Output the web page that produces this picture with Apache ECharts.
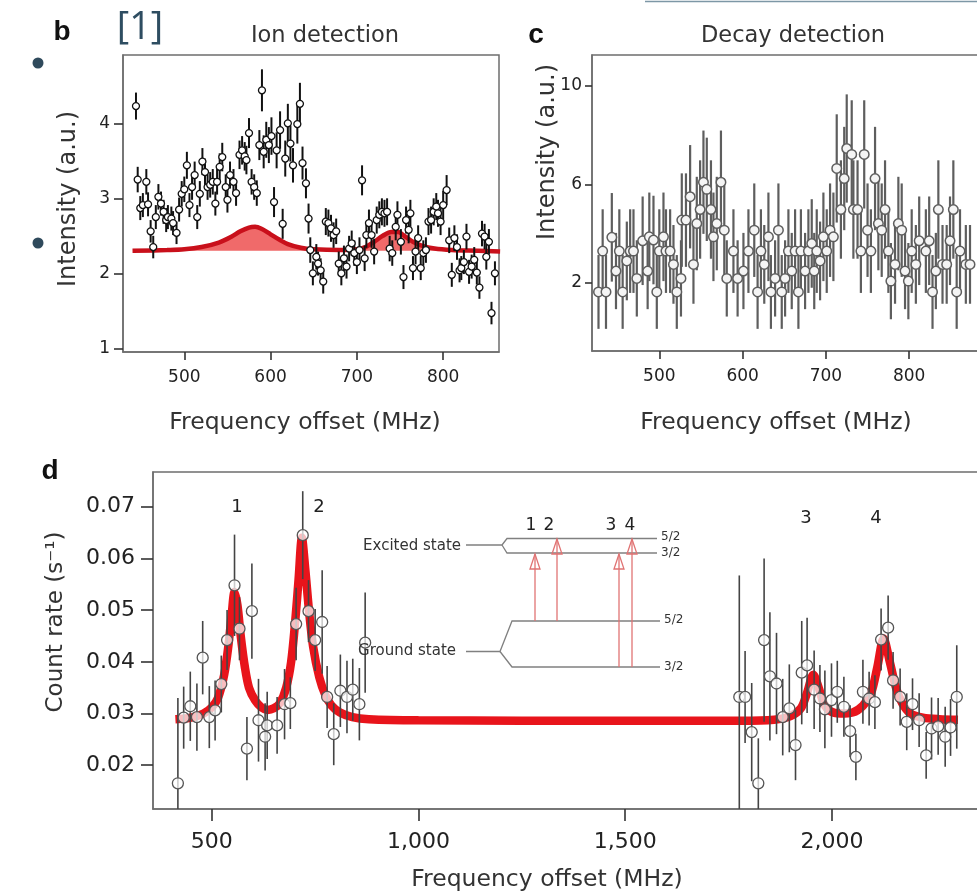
<!DOCTYPE html>
<html><head><meta charset="utf-8">
<script src="https://cdn.jsdelivr.net/npm/echarts@6/dist/echarts.min.js"></script>
<style>html,body{margin:0;padding:0;background:#fff}#c{width:977px;height:895px}</style>
</head><body><div id="c"></div><script>
// ---------- Panel b: ion detection ----------
const ionFreq = [444,446,449,452,456,458,461,464,467,470,473,476,479,481,485,487,491,494,497,500,503,506,509,512,515,518,521,524,527,530,533,536,538,541,544,548,550,553,557,560,564,567,570,572,575,578,581,584,587,590,592,595,598,601,604,607,611,614,617,620,623,626,631,634,637,641,644,646,649,653,655,658,661,664,667,670,673,676,679,682,685,688,691,694,697,700,703,706,709,711,714,717,720,723,726,729,732,735,738,741,745,747,751,754,757,760,762,765,768,771,774,777,780,783,786,789,792,794,797,800,804,807,810,813,816,819,821,824,827,830,833,836,839,842,845,848,850,853,856,860];
const ionVal = [4.23,3.25,2.87,2.91,3.22,2.92,2.56,2.35,2.75,3.02,2.93,2.82,2.71,2.75,2.73,2.67,2.54,2.85,3.06,3.12,3.44,2.91,3.15,3.31,2.75,3.06,3.49,3.35,3.15,3.18,3.22,2.93,3.22,3.42,3.55,3.15,2.98,3.31,3.22,3.07,3.58,3.64,3.56,3.51,3.87,3.22,3.15,3.07,3.71,4.44,3.62,3.78,3.71,3.83,2.95,3.64,3.91,2.66,3.53,4.00,3.73,3.44,3.99,4.26,3.47,3.20,2.73,2.31,2.00,2.22,2.13,2.04,1.89,2.69,2.67,2.60,2.51,2.56,2.13,2.00,2.20,2.09,2.33,2.40,2.27,2.15,2.31,3.24,2.20,2.51,2.67,2.51,2.29,2.71,2.78,2.82,2.80,2.82,2.33,2.27,2.62,2.78,2.42,1.95,2.71,2.58,2.80,2.07,2.29,2.47,2.07,2.27,2.31,2.69,2.71,2.82,2.89,2.80,2.69,2.91,3.11,2.44,1.98,2.47,2.35,2.04,2.07,2.15,2.49,2.02,2.09,2.18,2.01,1.81,2.53,2.49,2.22,2.42,1.47,2.00];
const ionErr = [0.18,0.17,0.16,0.16,0.17,0.16,0.15,0.15,0.16,0.17,0.16,0.16,0.16,0.16,0.16,0.16,0.15,0.16,0.17,0.17,0.18,0.16,0.17,0.18,0.16,0.17,0.18,0.18,0.17,0.17,0.17,0.16,0.17,0.18,0.19,0.17,0.17,0.18,0.17,0.17,0.19,0.19,0.19,0.19,0.20,0.17,0.17,0.17,0.20,0.28,0.22,0.24,0.24,0.25,0.20,0.24,0.25,0.20,0.24,0.26,0.24,0.23,0.26,0.28,0.22,0.20,0.20,0.17,0.16,0.17,0.16,0.16,0.16,0.18,0.18,0.18,0.17,0.17,0.16,0.16,0.17,0.16,0.17,0.17,0.17,0.16,0.17,0.20,0.17,0.17,0.18,0.17,0.17,0.18,0.18,0.18,0.18,0.18,0.17,0.17,0.18,0.18,0.17,0.16,0.18,0.18,0.18,0.16,0.17,0.17,0.16,0.17,0.17,0.18,0.18,0.18,0.18,0.18,0.18,0.19,0.20,0.17,0.16,0.17,0.17,0.16,0.16,0.16,0.17,0.16,0.16,0.17,0.16,0.15,0.17,0.17,0.17,0.17,0.15,0.16];
const ionFitFreq = [440,480,500,520,540,555,565,575,582,590,600,610,620,635,650,680,700,710,720,730,740,748,755,765,775,790,810,840,866];
const ionFitVal = [2.30,2.31,2.32,2.35,2.41,2.49,2.56,2.61,2.62,2.59,2.52,2.45,2.39,2.34,2.32,2.31,2.32,2.35,2.42,2.50,2.55,2.55,2.50,2.42,2.37,2.33,2.31,2.30,2.29];
const ionFitBase = 2.3;
const ionXTicks = [500,600,700,800];
const ionYTicks = [1,2,3,4];

// ---------- Panel c: decay detection ----------
const decayFreq = [427,432,436,443,448,452,456,461,465,469,473,480,486,488,493,497,500,505,508,513,517,521,526,527,532,537,541,545,549,553,557,562,565,569,574,578,581,589,594,601,607,614,618,622,626,631,634,639,643,647,651,655,659,663,667,670,675,679,683,686,689,693,697,701,705,709,713,718,722,725,731,733,738,742,746,750,754,759,763,767,771,775,778,783,787,791,795,799,803,808,812,820,824,828,832,835,840,845,849,853,857,861,868,873];
const decayVal = [1.63,3.29,1.63,3.85,2.48,3.29,1.63,2.89,3.29,3.29,2.18,3.71,2.48,3.87,3.74,1.63,3.29,3.87,3.29,3.29,2.75,1.63,2.18,4.55,4.55,5.50,2.75,4.41,4.98,6.09,5.80,4.98,3.87,4.41,6.09,4.14,2.18,3.29,2.18,2.48,3.29,4.14,1.63,3.29,2.75,3.87,1.63,2.18,4.14,1.63,2.18,3.29,2.48,3.29,1.63,3.29,2.48,3.29,3.60,2.48,3.29,2.89,3.87,3.29,4.14,3.87,6.65,4.98,6.24,7.46,7.22,4.98,4.98,3.29,7.22,4.14,3.29,6.24,4.41,4.14,4.98,3.29,2.07,2.75,4.41,4.14,2.48,2.07,3.29,2.75,3.71,3.29,3.71,1.63,2.48,4.98,2.75,2.75,3.71,4.98,1.63,3.29,2.75,2.75];
const decayErr = [1.5,1.7,1.5,1.8,1.55,1.7,1.5,1.6,1.7,1.7,1.55,1.8,1.55,1.8,1.8,1.5,1.7,1.8,1.7,1.7,1.6,1.5,1.55,1.9,1.9,2.1,1.6,1.9,2.0,2.1,2.1,2.0,1.8,1.9,2.1,1.9,1.55,1.7,1.55,1.55,1.7,1.9,1.5,1.7,1.6,1.8,1.5,1.55,1.9,1.5,1.55,1.7,1.55,1.7,1.5,1.7,1.55,1.7,1.8,1.55,1.7,1.6,1.8,1.7,1.9,1.8,2.2,2.0,2.1,2.2,2.2,2.0,2.0,1.7,2.2,1.9,1.7,2.1,1.9,1.9,2.0,1.7,1.55,1.6,1.9,1.9,1.55,1.55,1.7,1.6,1.8,1.7,1.8,1.5,1.55,2.0,1.6,1.6,1.8,2.0,1.5,1.7,1.6,1.6];
const decayXTicks = [500,600,700,800];
const decayYTicks = [2,6,10];

// ---------- Panel d: resonance count rate ----------
const rateFreq = [418,432,448,464,478,494,508,523,537,555,567,585,597,613,629,634,658,676,690,704,720,734,750,767,779,795,811,827,841,857,871,
  1776,1790,1806,1822,1836,1850,1866,1881,1897,1912,1927,1940,1957,1971,1983,1999,2013,2029,2044,2058,2075,2090,2104,2119,2136,2148,2165,2181,2195,2211,2228,2241,2257,2274,2287,2302];
const rateVal = [0.0165,0.0292,0.0314,0.0293,0.0408,0.0293,0.0306,0.0357,0.0442,0.0548,0.0464,0.0232,0.0498,0.0287,0.0255,0.0277,0.0277,0.0318,0.0320,0.0473,0.0645,0.0498,0.0442,0.0477,0.0332,0.0260,0.0344,0.0332,0.0346,0.0318,0.0437,
  0.0332,0.0332,0.0264,0.0165,0.0442,0.0372,0.0358,0.0293,0.0310,0.0239,0.0379,0.0393,0.0346,0.0329,0.0308,0.0326,0.0342,0.0313,0.0266,0.0216,0.0342,0.0329,0.0322,0.0443,0.0466,0.0364,0.0332,0.0284,0.0318,0.0287,0.0219,0.0271,0.0275,0.0255,0.0273,0.0332];
const rateErr = [0.0165,0.0060,0.0067,0.0065,0.0071,0.0060,0.0058,0.0055,0.0058,0.0098,0.0061,0.0061,0.0092,0.0080,0.0065,0.0065,0.0055,0.0068,0.0050,0.0070,0.0085,0.0060,0.0060,0.0100,0.0060,0.0060,0.0070,0.0070,0.0060,0.0070,0.0097,
  0.0235,0.0089,0.0095,0.0087,0.0158,0.0124,0.0098,0.0074,0.0085,0.0068,0.0100,0.0092,0.0076,0.0065,0.0075,0.0071,0.0060,0.0058,0.0050,0.0045,0.0062,0.0052,0.0052,0.0060,0.0062,0.0055,0.0055,0.0055,0.0050,0.0052,0.0045,0.0060,0.0055,0.0058,0.0055,0.0100];
const rateFitFreq = [412,450,480,500,515,530,540,548,555,562,570,580,590,605,620,635,650,665,680,692,702,710,718,726,735,745,760,775,790,810,840,880,1000,1500,1780,1860,1900,1925,1940,1955,1968,1980,1995,2020,2050,2075,2095,2110,2125,2140,2155,2170,2190,2220,2260,2305];
const rateFitVal = [0.0289,0.0292,0.0300,0.0312,0.0330,0.0375,0.0430,0.0490,0.0535,0.0510,0.0450,0.0390,0.0350,0.0325,0.0312,0.0307,0.0310,0.0320,0.0350,0.0400,0.0480,0.0560,0.0640,0.0580,0.0500,0.0430,0.0370,0.0335,0.0315,0.0302,0.0293,0.0289,0.0287,0.0286,0.0286,0.0288,0.0295,0.0310,0.0340,0.0375,0.0350,0.0320,0.0305,0.0300,0.0302,0.0315,0.0340,0.0390,0.0445,0.0400,0.0350,0.0320,0.0300,0.0292,0.0289,0.0288];
const rateXTicks = [500,1000,1500,2000];
const rateYTicks = [0.02,0.03,0.04,0.05,0.06,0.07];
const peakLabels = ['1','2','3','4'];

// ---------- build ----------
const FONT = 'DejaVu Sans';
const chart = echarts.init(document.getElementById('c'), null, {renderer:'canvas'});
const zip = (a,b) => a.map((v,i)=>[v,b[i]]);
const bars = (xs,ys,es) => xs.map((x,i)=>[x, ys[i]-es[i], ys[i]+es[i]]);
const AX = '#6e6e6e';
const TICK = '#333';

function errSeries(gi, data, color, width, z){
  return {type:'custom', xAxisIndex:gi, yAxisIndex:gi, z:z, silent:true, clip:true,
    data:data, encode:{x:0, y:[1,2]},
    renderItem:(params, api)=>{
      const a = api.coord([api.value(0), api.value(1)]);
      const b = api.coord([api.value(0), api.value(2)]);
      return {type:'line', shape:{x1:a[0], y1:a[1], x2:b[0], y2:b[1]},
        style:{stroke:color, lineWidth:width}};
    }};
}
function xAxis(gi, min, max, ticks, fs, margin, tlen, fmt){
  return {type:'value', gridIndex:gi, position:'bottom', min:min, max:max, splitLine:{show:false},
    axisLine:{show:true, onZero:false, lineStyle:{color:AX, width:1.5}},
    axisTick:{show:true, customValues:ticks, length:tlen, inside:false, lineStyle:{color:TICK, width:1.6}},
    axisLabel:{show:true, customValues:ticks, fontFamily:FONT, fontSize:fs, color:'#222', margin:margin, formatter:fmt}};
}
function yAxis(gi, min, max, ticks, fs, margin, tlen, fmt){
  return {type:'value', gridIndex:gi, position:'left', min:min, max:max, splitLine:{show:false},
    axisLine:{show:true, onZero:false, lineStyle:{color:AX, width:1.5}},
    axisTick:{show:true, customValues:ticks, length:tlen, inside:false, lineStyle:{color:TICK, width:1.6}},
    axisLabel:{show:true, customValues:ticks, fontFamily:FONT, fontSize:fs, color:'#222', margin:margin, formatter:fmt}};
}
const gridBase = {show:true, borderColor:AX, borderWidth:1.5, backgroundColor:'transparent', containLabel:false, outerBoundsMode:'none'};

function txt(x,y,text,fs,opt){
  return Object.assign({type:'text', x:x, y:y, silent:true, z:50,
    style:{text:text, font:(opt&&opt.weight?opt.weight+' ':'')+fs+'px "'+((opt&&opt.family)||FONT)+'"',
      fill:(opt&&opt.color)||'#222', align:(opt&&opt.align)||'center', verticalAlign:'middle'}},
    opt&&opt.rotation!==undefined?{rotation:opt.rotation}:{});
}
function seg(points, color, w){
  return {type:'polyline', silent:true, z:40, shape:{points:points}, style:{stroke:color, lineWidth:w, fill:null}};
}
function arrow(x, yFrom, yTo){
  const c = '#e07373';
  return [seg([[x,yFrom],[x,yTo]], c, 1.3),
    {type:'polygon', silent:true, z:41, shape:{points:[[x,yTo],[x-5,yTo+15],[x+5,yTo+15]]}, style:{stroke:c, lineWidth:1.3, fill:null}}];
}

const gray = '#808080';
const graphics = [
  // header decorations
  {type:'circle', silent:true, shape:{cx:38, cy:63, r:5.5}, style:{fill:'#2f4a5c'}},
  {type:'circle', silent:true, shape:{cx:38, cy:243, r:5.5}, style:{fill:'#2f4a5c'}},
  seg([[645,1.5],[977,1.5]], '#7d97a6', 1.5),
  txt(140, 28, '[1]', 38, {family:'Open Sans', color:'#2e4d61'}),
  txt(62, 32, 'b', 28, {weight:'bold', family:'Liberation Sans', color:'#111'}),
  txt(536, 35, 'c', 28, {weight:'bold', family:'Liberation Sans', color:'#111'}),
  txt(50, 471, 'd', 28, {weight:'bold', family:'Liberation Sans', color:'#111'}),
  txt(325, 36, 'Ion detection', 22.5, {color:'#333'}),
  txt(793, 36, 'Decay detection', 22.5, {color:'#333'}),
  txt(305, 423, 'Frequency offset (MHz)', 23.5, {color:'#333'}),
  txt(776, 423, 'Frequency offset (MHz)', 23.5, {color:'#333'}),
  txt(547, 880, 'Frequency offset (MHz)', 23.5, {color:'#333'}),
  txt(69, 199, 'Intensity (a.u.)', 24, {color:'#333', rotation:Math.PI/2}),
  txt(548, 152, 'Intensity (a.u.)', 24, {color:'#333', rotation:Math.PI/2}),
  txt(56, 622, 'Count rate (s⁻¹)', 23, {color:'#333', rotation:Math.PI/2}),
  // peak labels
  txt(237, 507, peakLabels[0], 18), txt(319, 507, peakLabels[1], 18),
  txt(806, 518, peakLabels[2], 18), txt(876, 518, peakLabels[3], 18),
  // inset: level scheme
  txt(461, 546, 'Excited state', 15, {align:'right', color:'#333'}),
  txt(456, 651, 'Ground state', 15, {align:'right', color:'#333'}),
  seg([[466,545],[502,545],[507,538.5],[657,538.5]], gray, 1.3),
  seg([[502,545],[507,553],[657,553]], gray, 1.3),
  seg([[466,651.5],[500,651.5],[512,621],[660,621]], gray, 1.3),
  seg([[500,651.5],[512,667],[660,667]], gray, 1.3),
  txt(661, 537, '5/2', 12, {align:'left', color:'#333'}),
  txt(661, 553, '3/2', 12, {align:'left', color:'#333'}),
  txt(664, 620, '5/2', 12, {align:'left', color:'#333'}),
  txt(664, 667, '3/2', 12, {align:'left', color:'#333'}),
  txt(531, 526, '1', 17), txt(549, 526, '2', 17), txt(611, 526, '3', 17), txt(630, 526, '4', 17),
  ...arrow(535, 621, 554),
  ...arrow(557, 621, 539),
  ...arrow(619, 667, 554),
  ...arrow(632, 667, 539)
];

const fmtThousands = v => v >= 1000 ? Math.floor(v/1000)+','+String(v%1000).padStart(3,'0') : String(v);

const option = {
  animation:false,
  backgroundColor:'#fff',
  grid:[
    Object.assign({left:123, top:55, width:376, height:297}, gridBase),
    Object.assign({left:592, top:55, width:392, height:296}, gridBase),
    Object.assign({left:153, top:472, width:831, height:337}, gridBase)
  ],
  xAxis:[
    xAxis(0, 428.97, 864.7, ionXTicks, 17, 17, 8),
    xAxis(1, 419.2, 889.8, decayXTicks, 17, 17, 8),
    xAxis(2, 357.8, 2367.9, rateXTicks, 22, 22, 12, fmtThousands)
  ],
  yAxis:[
    yAxis(0, 0.951, 4.911, ionYTicks, 17, 13, 9),
    yAxis(1, -0.77, 11.26, decayYTicks, 17, 10, 7),
    yAxis(2, 0.01153, 0.07671, rateYTicks, 22, 18, 12, v => v.toFixed(2))
  ],
  series:[
    // panel b
    {type:'line', xAxisIndex:0, yAxisIndex:0, z:2, data:zip(ionFitFreq, ionFitVal), smooth:0.35, showSymbol:false, silent:true,
      lineStyle:{color:'#c9101b', width:4.5},
      areaStyle:{origin:ionFitBase, color:'#f06a6a', opacity:1}},
    errSeries(0, bars(ionFreq, ionVal, ionErr), '#111', 2, 3),
    {type:'scatter', xAxisIndex:0, yAxisIndex:0, z:4, data:zip(ionFreq, ionVal), symbol:'circle', symbolSize:7, silent:true,
      itemStyle:{color:'#fff', borderColor:'#111', borderWidth:1.3, opacity:1}},
    // panel c
    errSeries(1, bars(decayFreq, decayVal, decayErr), '#5e5e5e', 2.2, 3),
    {type:'scatter', xAxisIndex:1, yAxisIndex:1, z:4, data:zip(decayFreq, decayVal), symbol:'circle', symbolSize:9.5, silent:true,
      itemStyle:{color:'#f4f4f4', borderColor:'#5e5e5e', borderWidth:1.5, opacity:1}},
    // panel d
    {type:'line', xAxisIndex:2, yAxisIndex:2, z:2, data:zip(rateFitFreq, rateFitVal), smooth:0.3, showSymbol:false, silent:true,
      lineStyle:{color:'#e8141b', width:8.5}},
    errSeries(2, bars(rateFreq, rateVal, rateErr), '#444', 1.6, 3),
    {type:'scatter', xAxisIndex:2, yAxisIndex:2, z:4, data:zip(rateFreq, rateVal), symbol:'circle', symbolSize:11, silent:true,
      itemStyle:{color:'rgba(255,255,255,0.72)', borderColor:'#555', borderWidth:1.3, opacity:1}}
  ],
  graphic:graphics
};
chart.setOption(option);
</script></body></html>
